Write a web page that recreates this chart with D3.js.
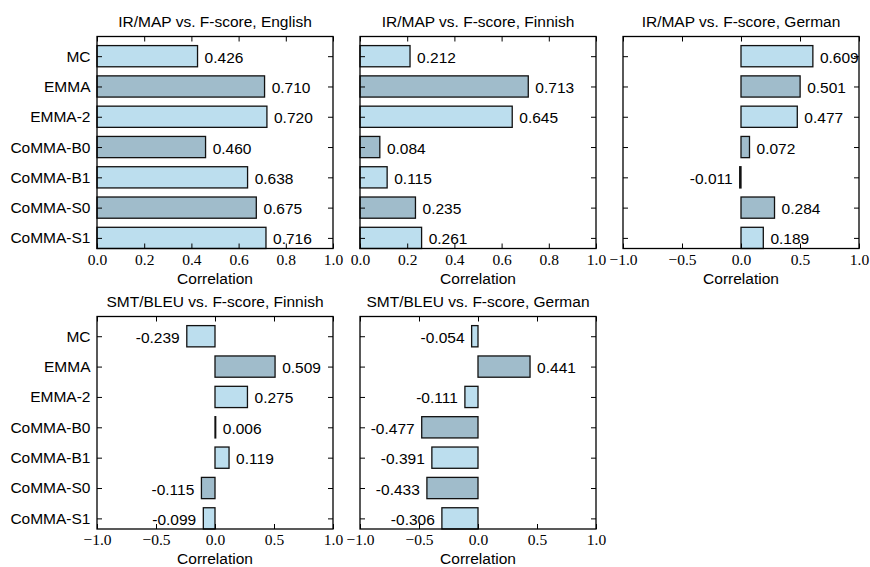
<!DOCTYPE html>
<html>
<head>
<meta charset="utf-8">
<script src="https://cdn.jsdelivr.net/npm/d3@7"></script>
<style>
  body { margin: 0; background: #fff; }
  svg text { fill: #000; }
</style>
</head>
<body>
<div id="chart"></div>
<script>
// Categories, top to bottom
const methods = ["MC", "EMMA", "EMMA-2", "CoMMA-B0", "CoMMA-B1", "CoMMA-S0", "CoMMA-S1"];

// Correlation values per panel (same order as methods)
const irEnglish = [0.426, 0.710, 0.720, 0.460, 0.638, 0.675, 0.716];
const irFinnish = [0.212, 0.713, 0.645, 0.084, 0.115, 0.235, 0.261];
const irGerman = [0.609, 0.501, 0.477, 0.072, -0.011, 0.284, 0.189];
const smtFinnish = [-0.239, 0.509, 0.275, 0.006, 0.119, -0.115, -0.099];
const smtGerman = [-0.054, 0.441, -0.111, -0.477, -0.391, -0.433, -0.306];

// x tick values
const ticksPos = [0.0, 0.2, 0.4, 0.6, 0.8, 1.0];
const ticksSym = [-1.0, -0.5, 0.0, 0.5, 1.0];

const panels = [
  {title: "IR/MAP vs. F-score, English", values: irEnglish, domain: [0, 1], ticks: ticksPos, col: 0, row: 0},
  {title: "IR/MAP vs. F-score, Finnish", values: irFinnish, domain: [0, 1], ticks: ticksPos, col: 1, row: 0},
  {title: "IR/MAP vs. F-score, German", values: irGerman, domain: [-1, 1], ticks: ticksSym, col: 2, row: 0},
  {title: "SMT/BLEU vs. F-score, Finnish", values: smtFinnish, domain: [-1, 1], ticks: ticksSym, col: 0, row: 1},
  {title: "SMT/BLEU vs. F-score, German", values: smtGerman, domain: [-1, 1], ticks: ticksSym, col: 1, row: 1}
];

const colors = ["#bcdeee", "#a0bccb"];  // alternating light / dark
const width = 870, height = 567;
const panelW = 236;
const lefts = [97, 360, 623];
const rows = [{top: 36.5, bottom: 248.5}, {top: 316.5, bottom: 529}];
const barH = 0.7;   // in category units
const tickLen = 5;
const SANS = '"Liberation Sans", Arial, Helvetica, sans-serif';
const SERIF = '"Liberation Serif", "DejaVu Serif", serif';
const FS = "15.5px";

const svg = d3.select("#chart").append("svg")
    .attr("width", width)
    .attr("height", height);

const fmt = v => (v < 0 ? "-" : "") + Math.abs(v).toFixed(3);
const n = methods.length;

panels.forEach(p => {
    const x0 = lefts[p.col], x1 = x0 + panelW;
    const r = rows[p.row];
    const g = svg.append("g");

    const x = d3.scaleLinear().domain(p.domain).range([x0, x1]);
    // slot i (from bottom) holds bar spanning [i, i+barH]; MC is at top
    const y = d3.scaleLinear().domain([0, n]).range([r.bottom, r.top]);
    const slot = i => n - 1 - i;
    const labelPad = 0.03 * (p.domain[1] - p.domain[0]);

    // bars
    g.selectAll(".bar")
        .data(p.values)
        .enter()
        .append("rect")
            .attr("class", "bar")
            .attr("x", d => x(Math.min(0, d)))
            .attr("width", d => Math.abs(x(d) - x(0)))
            .attr("y", (d, i) => y(slot(i) + barH))
            .attr("height", (d, i) => y(slot(i)) - y(slot(i) + barH))
            .attr("fill", (d, i) => colors[i % 2])
            .attr("stroke", "#111")
            .attr("stroke-width", 1.3);

    // value labels
    g.selectAll(".val")
        .data(p.values)
        .enter()
        .append("text")
            .attr("class", "val")
            .attr("x", d => d < 0 ? x(d - labelPad) : x(d + labelPad))
            .attr("y", (d, i) => y(slot(i) + barH / 2) + 1)
            .attr("dominant-baseline", "central")
            .attr("text-anchor", d => d < 0 ? "end" : "start")
            .style("font-family", SANS)
            .style("font-size", FS)
            .text(fmt);

    const yTicks = methods.map((m, i) => slot(i) + barH / 2);

    // x axes (inside ticks, bottom with labels)
    const xb = g.append("g")
        .attr("transform", "translate(0," + r.bottom + ")")
        .call(d3.axisBottom(x).tickValues(p.ticks).tickSize(-tickLen).tickPadding(5)
            .tickFormat(v => (v < 0 ? "\u2212" : "") + Math.abs(v).toFixed(1)));
    xb.selectAll("text")
        .style("font-family", SERIF)
        .style("font-size", FS);

    g.append("g")
        .attr("transform", "translate(0," + r.top + ")")
        .call(d3.axisTop(x).tickValues(p.ticks).tickSize(-tickLen).tickFormat(""));

    // y axes
    const yl = g.append("g")
        .attr("transform", "translate(" + x0 + ",0)")
        .call(d3.axisLeft(y).tickValues(yTicks).tickSize(-tickLen).tickPadding(6.5)
            .tickFormat((v, i) => p.col === 0 ? methods[i] : ""));
    yl.selectAll("text")
        .style("font-family", SANS)
        .style("font-size", FS);

    g.append("g")
        .attr("transform", "translate(" + x1 + ",0)")
        .call(d3.axisRight(y).tickValues(yTicks).tickSize(-tickLen).tickFormat(""));

    g.selectAll(".domain").remove();
    g.selectAll(".tick line").attr("stroke", "#000").attr("stroke-width", 1);

    // frame
    g.append("rect")
        .attr("x", x0).attr("y", r.top)
        .attr("width", panelW).attr("height", r.bottom - r.top)
        .attr("fill", "none")
        .attr("stroke", "#000")
        .attr("stroke-width", 1.3);

    // title
    g.append("text")
        .attr("x", (x0 + x1) / 2)
        .attr("y", r.top - 10)
        .style("text-anchor", "middle")
        .style("font-family", SANS)
        .style("font-size", FS)
        .text(p.title);

    // x-axis label
    g.append("text")
        .attr("x", (x0 + x1) / 2)
        .attr("y", r.bottom + 35)
        .style("text-anchor", "middle")
        .style("font-family", SANS)
        .style("font-size", FS)
        .text("Correlation");
});
</script>
</body>
</html>
